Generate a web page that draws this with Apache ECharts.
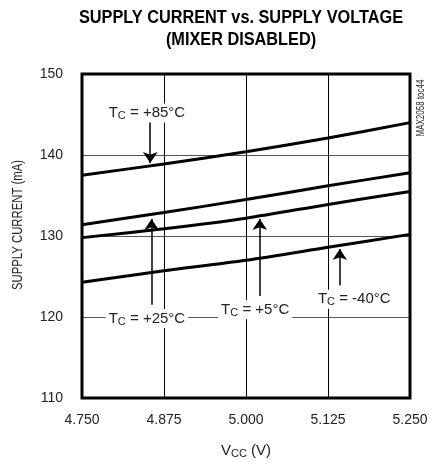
<!DOCTYPE html>
<html><head><meta charset="utf-8">
<script src="https://cdn.jsdelivr.net/npm/echarts@6/dist/echarts.min.js"></script>
<style>html,body{margin:0;padding:0;background:#fff}#c{width:432px;height:464px}</style>
</head><body><div id="c"></div>
<script>
const vcc = [4.75, 4.875, 5.0, 5.125, 5.25];
const tc85 = [137.5, 138.9, 140.4, 142.1, 144.0];
const tc25 = [131.4, 132.9, 134.5, 136.2, 137.8];
const tc5 = [129.8, 130.9, 132.2, 133.9, 135.5];
const tcm40 = [124.3, 125.7, 127.0, 128.6, 130.2];
const yTicks = [110, 120, 130, 140, 150];
const xTicks = ['4.750', '4.875', '5.000', '5.125', '5.250'];
const titleLines = ['SUPPLY CURRENT vs. SUPPLY VOLTAGE', '(MIXER DISABLED)'];
const yName = 'SUPPLY CURRENT (mA)';

// annotation anchors in data units: label [x,y], arrow from [x,y1] to [x,y2]
const labels = [
  {txt: '+85°C', at: [4.849, 145.2]},
  {txt: '+25°C', at: [4.849, 119.8]},
  {txt: '+5°C', at: [5.014, 120.9]},
  {txt: '-40°C', at: [5.165, 122.2]}
];
const arrows = [
  [[4.854, 144.4], [4.854, 139.0]],
  [[4.856, 121.5], [4.856, 132.1]],
  [[5.021, 122.6], [5.021, 132.1]],
  [[5.143, 123.9], [5.143, 128.4]]
];

const FONT = '"Liberation Sans", Arial, sans-serif';
const ctx = document.createElement('canvas').getContext('2d');
function widthOf(txt, font) { ctx.font = font; return ctx.measureText(txt).width; }
const titleFont = 'bold 18px "Liberation Sans"';
const titleScale = 324 / widthOf(titleLines[0], titleFont);
const yNameFont = '15px "Liberation Sans"';
const yNameScale = 130 / widthOf(yName, yNameFont);

const chart = echarts.init(document.getElementById('c'), null, {renderer: 'canvas'});

function mk(vals, extra) {
  return Object.assign({
    type: 'line', data: vcc.map((x, i) => [x, vals[i]]), smooth: 0.3,
    symbol: 'none', lineStyle: {color: '#000', width: 3}, z: 5, silent: true
  }, extra || {});
}

chart.setOption({
  animation: false,
  grid: {left: 82, right: 22, top: 74, bottom: 63, show: true, borderColor: '#000', borderWidth: 3, backgroundColor: 'transparent', z: 10},
  xAxis: {
    type: 'value', min: 4.75, max: 5.25, interval: 0.125,
    name: '{v|V}{s|CC}{v| (V)}', nameLocation: 'middle', nameGap: 44,
    nameTextStyle: {rich: {v: {fontFamily: FONT, fontSize: 15, color: '#222'}, s: {fontFamily: FONT, fontSize: 11, color: '#222', verticalAlign: 'bottom', padding: [6, 0, 0, 0]}}},
    axisLine: {show: false}, axisTick: {show: false},
    axisLabel: {margin: 15, fontFamily: FONT, fontSize: 14, color: '#222', formatter: v => xTicks[Math.round((v - 4.75) / 0.125)]},
    splitLine: {lineStyle: {color: '#000', width: 1}}
  },
  yAxis: {
    type: 'value', min: 110, max: 150, interval: 10,
    axisLine: {show: false}, axisTick: {show: false},
    axisLabel: {margin: 19, fontFamily: FONT, fontSize: 14, color: '#222', formatter: v => yTicks.includes(v) ? String(v) : ''},
    splitLine: {lineStyle: {color: '#555', width: 1}}
  },
  series: [
    mk(tc85, {
      markLine: {
        silent: true, symbol: ['none', 'arrow'], symbolSize: 11,
        itemStyle: {color: '#000'},
        lineStyle: {color: '#000', width: 1.5, type: 'solid'}, label: {show: false},
        data: arrows.map(a => [{coord: a[0]}, {coord: a[1]}]), z: 6
      },
      markPoint: {
        silent: true, symbol: 'circle', symbolSize: 1, itemStyle: {color: 'rgba(0,0,0,0)'},
        data: labels.map(l => ({coord: l.at, value: l.txt})),
        label: {
          show: true, position: 'inside', backgroundColor: '#fff', padding: [1, 3],
          formatter: p => '{t|T}{s|C}{t| = ' + p.value + '}',
          rich: {t: {fontFamily: FONT, fontSize: 15, color: '#222'}, s: {fontFamily: FONT, fontSize: 11, color: '#222', verticalAlign: 'bottom', padding: [6, 0, 0, 0]}}
        }, z: 8
      }
    }),
    mk(tc25), mk(tc5), mk(tcm40)
  ],
  graphic: [
    {type: 'text', x: 241, y: 18, scaleX: titleScale, z: 20,
     style: {text: titleLines[0], font: titleFont, fill: '#000', align: 'center', verticalAlign: 'middle'}},
    {type: 'text', x: 241, y: 40, scaleX: titleScale, z: 20,
     style: {text: titleLines[1], font: titleFont, fill: '#000', align: 'center', verticalAlign: 'middle'}},
    {type: 'text', x: 18, y: 225, rotation: Math.PI / 2, scaleX: yNameScale, z: 20,
     style: {text: yName, font: yNameFont, fill: '#222', align: 'center', verticalAlign: 'middle'}},
    {type: 'text', x: 421, y: 108, rotation: Math.PI / 2, scaleX: 0.8, z: 20,
     style: {text: 'MAX2058 toc44', font: '10px "Liberation Sans"', fill: '#222', align: 'center', verticalAlign: 'middle'}}
  ]
});
</script></body></html>
